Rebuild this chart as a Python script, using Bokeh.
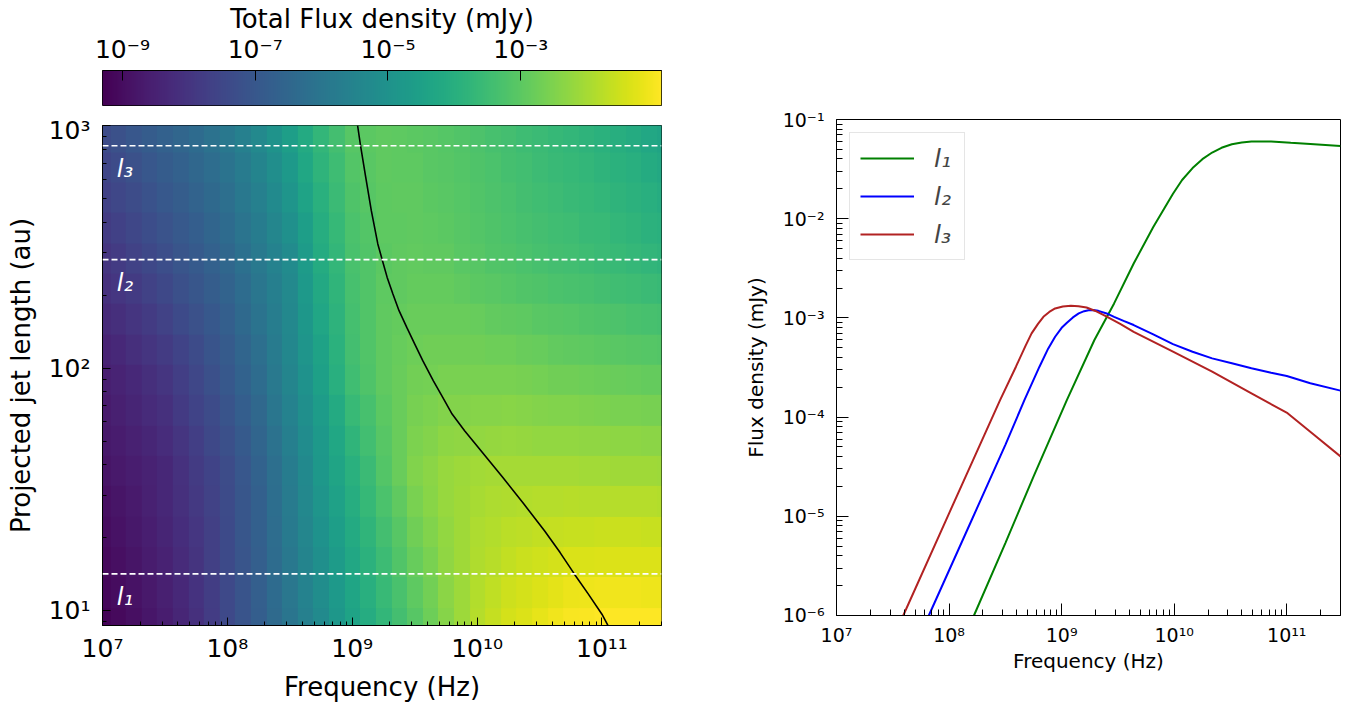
import numpy as np
from bokeh.plotting import figure
from bokeh.models import (LinearColorMapper, FixedTicker, CustomJSTickFormatter, Span,
                          Legend, LegendItem, Range1d)
from bokeh.layouts import row, column
from bokeh.palettes import Viridis256
from bokeh.embed import file_html
from bokeh.resources import INLINE
from bokeh.core.properties import value

FONT = "DejaVu Sans"

# ---------------- data: heat map (log10 of total flux density, mJy) ----------------
log_freq_grid = [7.0, 7.125, 7.25, 7.375, 7.5, 7.625, 7.75, 7.875, 8.0, 8.125, 8.25, 8.375,
                 8.5, 8.625, 8.75, 8.875, 9.0, 9.125, 9.25, 9.375, 9.5, 9.625, 9.75, 9.875,
                 10.0, 10.125, 10.25, 10.375, 10.5, 10.625, 10.75, 10.875, 11.0, 11.125,
                 11.25, 11.375, 11.5]
log_len_grid = [0.95, 1.075, 1.2, 1.325, 1.45, 1.575, 1.7, 1.825, 1.95, 2.075, 2.2, 2.325,
                2.45, 2.575, 2.7, 2.825, 2.95]
log_flux_grid = [
    [-9.22, -9.09, -8.96, -8.80, -8.63, -8.38, -8.12, -7.79, -7.45, -7.11, -6.77, -6.40, -6.02, -5.64, -5.26, -4.84, -4.42, -4.08, -3.74, -3.41, -3.07, -2.74, -2.40, -2.11, -1.81, -1.62, -1.43, -1.31, -1.18, -1.07, -0.96, -0.92, -0.88, -0.88, -0.88, -0.88, -0.88],
    [-9.16, -9.03, -8.90, -8.74, -8.57, -8.33, -8.08, -7.76, -7.43, -7.10, -6.76, -6.37, -5.97, -5.58, -5.18, -4.76, -4.34, -3.99, -3.64, -3.31, -2.97, -2.66, -2.35, -2.10, -1.84, -1.68, -1.52, -1.42, -1.31, -1.23, -1.14, -1.11, -1.07, -1.07, -1.07, -1.08, -1.08],
    [-9.08, -8.96, -8.83, -8.66, -8.49, -8.26, -8.02, -7.72, -7.41, -7.08, -6.74, -6.33, -5.92, -5.51, -5.10, -4.68, -4.26, -3.89, -3.52, -3.18, -2.84, -2.57, -2.29, -2.09, -1.89, -1.77, -1.64, -1.57, -1.49, -1.43, -1.36, -1.35, -1.33, -1.33, -1.33, -1.33, -1.33],
    [-9.01, -8.89, -8.76, -8.59, -8.42, -8.20, -7.97, -7.69, -7.40, -7.06, -6.72, -6.29, -5.86, -5.44, -5.01, -4.59, -4.16, -3.78, -3.39, -3.06, -2.72, -2.48, -2.24, -2.09, -1.93, -1.85, -1.76, -1.71, -1.66, -1.62, -1.58, -1.58, -1.57, -1.57, -1.57, -1.59, -1.60],
    [-8.94, -8.82, -8.69, -8.52, -8.35, -8.13, -7.91, -7.65, -7.38, -7.05, -6.71, -6.26, -5.81, -5.36, -4.91, -4.49, -4.07, -3.66, -3.25, -2.92, -2.58, -2.39, -2.19, -2.09, -1.98, -1.93, -1.87, -1.85, -1.83, -1.82, -1.80, -1.81, -1.81, -1.81, -1.81, -1.83, -1.85],
    [-8.86, -8.74, -8.61, -8.48, -8.35, -8.10, -7.84, -7.59, -7.34, -7.00, -6.66, -6.21, -5.75, -5.29, -4.82, -4.39, -3.96, -3.55, -3.14, -2.82, -2.49, -2.33, -2.17, -2.11, -2.05, -2.03, -2.01, -2.02, -2.02, -2.02, -2.02, -2.04, -2.06, -2.07, -2.07, -2.09, -2.11],
    [-8.77, -8.65, -8.52, -8.38, -8.24, -7.99, -7.73, -7.48, -7.23, -6.90, -6.56, -6.11, -5.65, -5.19, -4.73, -4.27, -3.80, -3.44, -3.07, -2.81, -2.55, -2.43, -2.31, -2.27, -2.23, -2.21, -2.19, -2.21, -2.23, -2.24, -2.25, -2.27, -2.29, -2.31, -2.32, -2.34, -2.36],
    [-8.68, -8.55, -8.42, -8.27, -8.12, -7.87, -7.62, -7.37, -7.11, -6.78, -6.44, -6.00, -5.56, -5.10, -4.64, -4.14, -3.63, -3.32, -3.00, -2.81, -2.61, -2.53, -2.45, -2.43, -2.40, -2.40, -2.39, -2.42, -2.44, -2.47, -2.49, -2.51, -2.53, -2.56, -2.58, -2.60, -2.62],
    [-8.58, -8.45, -8.32, -8.16, -8.00, -7.75, -7.50, -7.25, -6.99, -6.66, -6.32, -5.89, -5.46, -5.00, -4.53, -4.00, -3.47, -3.20, -2.93, -2.80, -2.67, -2.63, -2.59, -2.59, -2.58, -2.58, -2.57, -2.61, -2.65, -2.69, -2.72, -2.75, -2.77, -2.81, -2.84, -2.86, -2.88],
    [-8.45, -8.32, -8.18, -8.01, -7.83, -7.60, -7.36, -7.12, -6.87, -6.54, -6.21, -5.81, -5.40, -4.92, -4.44, -3.92, -3.39, -3.16, -2.92, -2.83, -2.73, -2.72, -2.70, -2.71, -2.72, -2.74, -2.75, -2.80, -2.84, -2.89, -2.93, -2.96, -2.99, -3.04, -3.08, -3.11, -3.13],
    [-8.30, -8.15, -8.00, -7.82, -7.64, -7.42, -7.20, -6.97, -6.74, -6.42, -6.10, -5.74, -5.37, -4.85, -4.33, -3.85, -3.36, -3.15, -2.94, -2.87, -2.79, -2.79, -2.79, -2.82, -2.85, -2.89, -2.92, -2.97, -3.02, -3.06, -3.10, -3.15, -3.19, -3.24, -3.29, -3.33, -3.37],
    [-8.14, -7.98, -7.82, -7.64, -7.46, -7.25, -7.04, -6.83, -6.61, -6.31, -6.00, -5.67, -5.33, -4.78, -4.23, -3.79, -3.34, -3.16, -2.97, -2.92, -2.86, -2.87, -2.88, -2.94, -2.99, -3.04, -3.09, -3.15, -3.20, -3.25, -3.29, -3.34, -3.39, -3.45, -3.51, -3.57, -3.62],
    [-7.99, -7.82, -7.65, -7.47, -7.28, -7.09, -6.90, -6.69, -6.48, -6.19, -5.89, -5.57, -5.25, -4.69, -4.13, -3.72, -3.31, -3.15, -2.99, -2.95, -2.91, -2.93, -2.95, -3.02, -3.08, -3.15, -3.21, -3.28, -3.34, -3.39, -3.43, -3.50, -3.56, -3.63, -3.69, -3.76, -3.83],
    [-7.83, -7.67, -7.50, -7.32, -7.14, -6.96, -6.77, -6.56, -6.34, -6.05, -5.76, -5.43, -5.09, -4.57, -4.04, -3.65, -3.25, -3.12, -2.98, -2.96, -2.93, -2.96, -2.99, -3.06, -3.12, -3.19, -3.25, -3.33, -3.40, -3.46, -3.51, -3.58, -3.64, -3.72, -3.79, -3.88, -3.96],
    [-7.68, -7.52, -7.35, -7.17, -6.99, -6.81, -6.63, -6.42, -6.21, -5.92, -5.62, -5.27, -4.92, -4.43, -3.94, -3.57, -3.19, -3.08, -2.96, -2.95, -2.94, -2.99, -3.03, -3.09, -3.15, -3.23, -3.31, -3.39, -3.46, -3.52, -3.58, -3.66, -3.73, -3.82, -3.90, -4.00, -4.10],
    [-7.53, -7.37, -7.20, -7.03, -6.85, -6.68, -6.50, -6.29, -6.08, -5.79, -5.49, -5.13, -4.76, -4.30, -3.84, -3.49, -3.13, -3.04, -2.95, -2.96, -2.97, -3.02, -3.07, -3.14, -3.20, -3.28, -3.36, -3.44, -3.52, -3.59, -3.66, -3.74, -3.82, -3.91, -4.00, -4.12, -4.23],
    [-7.36, -7.20, -7.03, -6.86, -6.69, -6.52, -6.35, -6.14, -5.93, -5.64, -5.34, -4.96, -4.58, -4.16, -3.74, -3.41, -3.07, -3.01, -2.94, -2.97, -2.99, -3.05, -3.11, -3.18, -3.24, -3.33, -3.41, -3.49, -3.57, -3.66, -3.74, -3.83, -3.91, -4.02, -4.12, -4.25, -4.37],
]

# turnover curve (log10 length [au], log10 frequency [Hz])
turn_log_len = [3.0, 2.916, 2.787, 2.649, 2.512, 2.447, 2.374, 2.306, 2.237, 2.168, 2.100,
                2.031, 1.948, 1.88, 1.811, 1.742, 1.673, 1.61, 1.55, 1.44, 1.33, 1.24,
                1.151, 1.07, 0.986, 0.938]
turn_log_freq = [9.043, 9.067, 9.108, 9.153, 9.205, 9.24, 9.28, 9.326, 9.375, 9.437, 9.50,
                 9.565, 9.65, 9.725, 9.80, 9.90, 10.01, 10.11, 10.205, 10.375, 10.54, 10.665,
                 10.78, 10.89, 11.0, 11.05]

cut_len = [14.2, 280.0, 825.0]
cut_names = ["l\u2081", "l\u2082", "l\u2083"]

# ---------------- data: spectra at the three cuts (log10 Hz, log10 mJy) ----------------
l1_log_freq = [8.221, 8.5, 8.75, 9.047, 9.291, 9.466, 9.640, 9.814, 9.989, 10.07, 10.163,
               10.25, 10.337, 10.42, 10.512, 10.6, 10.686, 10.861, 11.035, 11.209, 11.477]
l1_log_flux = [-6.0, -5.27, -4.60, -3.827, -3.223, -2.854, -2.452, -2.083, -1.748, -1.61, -1.49,
               -1.40, -1.333, -1.285, -1.250, -1.231, -1.222, -1.221, -1.235, -1.248, -1.268]
l2_log_freq = [7.820, 8.2, 8.5, 8.670, 8.803, 8.88, 8.942, 9.0, 9.047, 9.10, 9.152, 9.2, 9.239,
               9.28, 9.326, 9.40, 9.466, 9.55, 9.640, 9.814, 9.989, 10.163, 10.337, 10.512,
               10.686, 10.861, 11.0, 11.209, 11.477]
l2_log_flux = [-6.0, -5.04, -4.28, -3.827, -3.492, -3.31, -3.190, -3.10, -3.049, -2.995, -2.955,
               -2.932, -2.922, -2.921, -2.929, -2.955, -2.989, -3.03, -3.072, -3.166, -3.264,
               -3.341, -3.408, -3.458, -3.508, -3.552, -3.586, -3.659, -3.733]
l3_log_freq = [7.593, 8.0, 8.25, 8.454, 8.594, 8.68, 8.733, 8.79, 8.838, 8.89, 8.942, 9.01,
               9.082, 9.15, 9.221, 9.30, 9.396, 9.52, 9.640, 9.989, 10.337, 10.686, 11.007,
               11.244, 11.477]
l3_log_flux = [-6.0, -4.97, -4.34, -3.827, -3.492, -3.28, -3.156, -3.06, -2.989, -2.94, -2.905,
               -2.885, -2.878, -2.882, -2.895, -2.93, -2.985, -3.06, -3.140, -3.341, -3.542,
               -3.760, -3.961, -4.18, -4.397]

# ---------------- helpers ----------------
sup_formatter = CustomJSTickFormatter(code="""
const sup = {'-':'\u207b','0':'\u2070','1':'\u00b9','2':'\u00b2','3':'\u00b3','4':'\u2074',
             '5':'\u2075','6':'\u2076','7':'\u2077','8':'\u2078','9':'\u2079'};
const e = Math.round(Math.log10(tick));
return '10' + String(e).split('').map(c => sup[c]).join('');
""")


def minors(e0, e1):
    return [m * 10.0 ** e for e in range(e0, e1 + 1) for m in range(2, 10)]


def style_axis(ax, tick_size, label_size, maj_in, min_in, standoff, label_standoff):
    ax.formatter = sup_formatter
    ax.major_label_text_font = FONT
    ax.major_label_text_font_size = tick_size
    ax.major_label_text_color = "black"
    ax.axis_label_text_font = FONT
    ax.axis_label_text_font_size = label_size
    ax.axis_label_text_font_style = "normal"
    ax.axis_label_text_color = "black"
    ax.major_tick_in = maj_in
    ax.major_tick_out = 0
    ax.minor_tick_in = min_in
    ax.minor_tick_out = 0
    ax.major_tick_line_color = "black"
    ax.minor_tick_line_color = "black"
    ax.axis_line_color = "black"
    ax.major_label_standoff = standoff
    ax.axis_label_standoff = label_standoff


cmap = LinearColorMapper(palette=Viridis256, low=-9.3, high=-0.88)

# ---------------- colour bar ----------------
cb = figure(frame_width=559, frame_height=35, x_axis_type="log",
            x_range=Range1d(10 ** -9.3, 10 ** -0.88), y_range=Range1d(0, 1),
            x_axis_location="above", toolbar_location=None, output_backend="svg",
            min_border_left=102, min_border_right=20, min_border_top=70, min_border_bottom=10)
grad = np.linspace(-9.3, -0.88, 559).reshape(1, -1)
cb.image(image=[grad], x=10 ** -9.3, y=0, dw=10 ** -0.88 - 10 ** -9.3, dh=1, color_mapper=cmap)
cb.yaxis.visible = False
cb.grid.visible = False
cb.outline_line_color = "black"
cb.xaxis.ticker = FixedTicker(ticks=[1e-9, 1e-7, 1e-5, 1e-3], minor_ticks=[])
cb.xaxis.axis_label = "Total Flux density (mJy)"
style_axis(cb.xaxis[0], "25px", "26px", 10, 0, 7, -2)

# ---------------- heat map ----------------
x_lo, x_hi = 1e7, 3e11
hm = figure(frame_width=559, frame_height=500, x_axis_type="log", y_axis_type="log",
            x_range=Range1d(x_lo * 0.9999, x_hi), y_range=Range1d(8.7, 1000.01),
            toolbar_location=None, output_backend="svg",
            min_border_left=102, min_border_right=20, min_border_top=10, min_border_bottom=73)
grid = np.array(log_flux_grid)
step_f = log_freq_grid[1] - log_freq_grid[0]
step_l = log_len_grid[1] - log_len_grid[0]
img_x0 = 10 ** (log_freq_grid[0] - step_f / 2)
img_x1 = 10 ** (log_freq_grid[-1] + step_f / 2)
img_y0 = 10 ** (log_len_grid[0] - step_l / 2)
img_y1 = 10 ** (log_len_grid[-1] + step_l / 2)
hm.image(image=[grid], x=img_x0, y=img_y0, dw=img_x1 - img_x0,
         dh=img_y1 - img_y0, color_mapper=cmap)
hm.line([10 ** v for v in turn_log_freq], [10 ** v for v in turn_log_len],
        line_color="black", line_width=1.6)
for L in cut_len:
    hm.add_layout(Span(location=L, dimension="width", line_color="white",
                       line_dash="6 3", line_width=1.6))
hm.text(x=[1.3e7] * 3, y=[L * 0.80 for L in cut_len], text=cut_names,
        text_color="white", text_font=value(FONT), text_font_style="italic",
        text_font_size="24px", text_baseline="middle", text_align="left")
hm.grid.visible = False
hm.outline_line_color = "black"
hm.xaxis.ticker = FixedTicker(ticks=[1e7, 1e8, 1e9, 1e10, 1e11], minor_ticks=minors(7, 11))
hm.yaxis.ticker = FixedTicker(ticks=[10, 100, 1000], minor_ticks=[9] + minors(1, 2))
hm.xaxis.axis_label = "Frequency (Hz)"
hm.yaxis.axis_label = "Projected jet length (au)"
style_axis(hm.xaxis[0], "25px", "26px", 8, 4, 8, 6)
style_axis(hm.yaxis[0], "25px", "26px", 8, 4, 12, 10)

# ---------------- spectra ----------------
rp = figure(frame_width=504, frame_height=496, x_axis_type="log", y_axis_type="log",
            x_range=Range1d(x_lo * 0.9999, x_hi), y_range=Range1d(1e-6 * 0.9999, 0.10001),
            toolbar_location=None, output_backend="svg",
            min_border_left=155, min_border_right=3, min_border_top=119, min_border_bottom=80)
r1 = rp.line([10 ** v for v in l1_log_freq], [10 ** v for v in l1_log_flux],
             line_color="#008000", line_width=2)
r2 = rp.line([10 ** v for v in l2_log_freq], [10 ** v for v in l2_log_flux],
             line_color="#0000ff", line_width=2)
r3 = rp.line([10 ** v for v in l3_log_freq], [10 ** v for v in l3_log_flux],
             line_color="#b22222", line_width=2)
rp.grid.visible = False
rp.outline_line_color = "black"
rp.xaxis.ticker = FixedTicker(ticks=[1e7, 1e8, 1e9, 1e10, 1e11], minor_ticks=minors(7, 11))
rp.yaxis.ticker = FixedTicker(ticks=[1e-6, 1e-5, 1e-4, 1e-3, 1e-2, 1e-1], minor_ticks=minors(-6, -2))
rp.xaxis.axis_label = "Frequency (Hz)"
rp.yaxis.axis_label = "Flux density (mJy)"
style_axis(rp.xaxis[0], "19px", "20px", 12, 6, 8, 0)
style_axis(rp.yaxis[0], "19px", "20px", 12, 6, 12, 12)

legend = Legend(items=[LegendItem(label=n, renderers=[r]) for n, r in zip(cut_names, [r1, r2, r3])],
                location="top_left", margin=13, padding=10, spacing=8,
                glyph_width=54, glyph_height=30, label_height=30, label_standoff=20,
                label_text_font=FONT, label_text_font_style="italic",
                label_text_font_size="25px", border_line_color="#cccccc",
                border_line_width=1, background_fill_alpha=0.8)
rp.add_layout(legend)

layout = row(column(cb, hm, spacing=0), rp, spacing=0)
open("out.html", "w").write(file_html(layout, INLINE))
